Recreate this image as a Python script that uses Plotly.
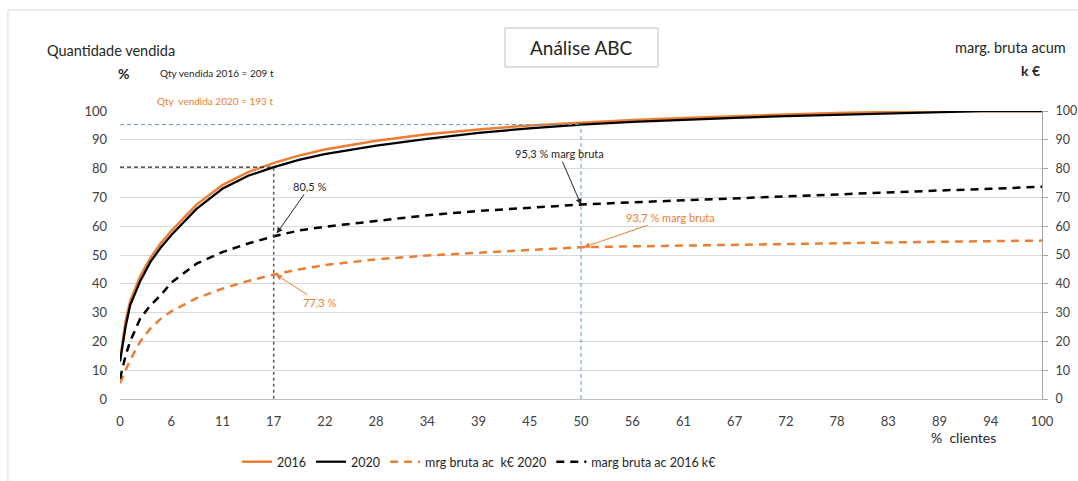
import plotly.graph_objects as go

# % of clients (cumulative, ranked)
pct_clients = [0, 0.6, 1.1, 2.2, 3.3, 4.4, 5.6, 8.3, 11.1, 13.9, 16.7, 19.4, 22.2,
               27.8, 33.3, 38.9, 44.4, 50, 55.6, 61.1, 66.7, 72.2, 77.8, 83.3,
               88.9, 94.4, 100]

# cumulative quantity sold (%)
qty_2016 = [13.5, 27, 34, 42.7, 49, 54, 58.5, 67.5, 74.3, 78.8, 82, 84.5, 86.6,
            89.7, 91.9, 93.6, 95, 96, 96.9, 97.6, 98.3, 98.8, 99.3, 99.7,
            100, 100, 100]
qty_2020 = [13, 25, 32.5, 41, 47.6, 52.5, 57, 66, 73, 77.5, 80.5, 83, 85,
            88, 90.3, 92.4, 94, 95.3, 96.2, 97, 97.6, 98.2, 98.7, 99.2,
            99.7, 100, 100]

# cumulative gross margin (k€, right axis)
mrg_2020 = [5.5, 10, 13.5, 20, 24.5, 27.8, 30.5, 35, 38.3, 41, 43.2, 45, 46.5,
            48.5, 49.8, 50.8, 51.8, 52.7, 53, 53.3, 53.6, 53.9, 54.1, 54.4,
            54.6, 54.8, 55]
mrg_2016 = [7, 15, 20, 28, 32.5, 36, 40.5, 47, 51, 54, 56.5, 58.5, 59.8,
            61.8, 63.8, 65.3, 66.5, 67.5, 68.3, 69, 69.8, 70.5, 71.2, 71.8,
            72.4, 73, 73.7]

x_tick_labels = ["0", "6", "11", "17", "22", "28", "34", "39", "45", "50",
                 "56", "61", "67", "72", "78", "83", "89", "94", "100"]
x_tick_vals = [i * 100 / 18 for i in range(len(x_tick_labels))]

# reference points
ref_a_x, ref_a_y = 100 / 6, 80.5
ref_b_x, ref_b_y = 50, 95.3

ORANGE = "#ED7D31"
BLUE = "#5B9BD5"
FONT = "Lato"
TXT = "#404040"

fig = go.Figure()

fig.add_trace(go.Scatter(x=pct_clients, y=qty_2016, name="2016", mode="lines",
                         line=dict(color=ORANGE, width=2.5)))
fig.add_trace(go.Scatter(x=pct_clients, y=qty_2020, name="2020", mode="lines",
                         line=dict(color="black", width=2.25)))
fig.add_trace(go.Scatter(x=pct_clients, y=mrg_2020, name="mrg bruta ac  k€ 2020",
                         mode="lines", yaxis="y2",
                         line=dict(color=ORANGE, width=2.5, dash="8px,6px")))
fig.add_trace(go.Scatter(x=pct_clients, y=mrg_2016, name="marg bruta ac 2016 k€",
                         mode="lines", yaxis="y2",
                         line=dict(color="black", width=2.5, dash="8px,6px")))

shapes = [
    # 17 % clients guide
    dict(type="line", xref="x", yref="y", x0=ref_a_x, x1=ref_a_x, y0=-2, y1=ref_a_y,
         line=dict(color="#595959", width=1.5, dash="3px,3px")),
    dict(type="line", xref="x", yref="y", x0=0, x1=ref_a_x, y0=ref_a_y, y1=ref_a_y,
         line=dict(color="#262626", width=1.2, dash="4px,3px")),
    # 50 % clients guide
    dict(type="line", xref="x", yref="y", x0=ref_b_x, x1=ref_b_x, y0=0, y1=ref_b_y,
         line=dict(color=BLUE, width=1, dash="4px,3px")),
    dict(type="line", xref="x", yref="y", x0=0, x1=ref_b_x, y0=ref_b_y, y1=ref_b_y,
         line=dict(color=BLUE, width=1, dash="4px,3px")),
    # title box
    dict(type="rect", xref="paper", yref="paper", x0=0.4176, x1=0.5835,
         y0=1.1528, y1=1.288, line=dict(color="#bfbfbf", width=1)),
    # chart area frame
    dict(type="rect", xref="paper", yref="paper", x0=-0.1215, x1=1.05,
         y0=-0.35, y1=1.3507, line=dict(color="#d9d9d9", width=1)),
]

annotations = [
    dict(text="Análise ABC", xref="paper", yref="paper", x=0.5, y=1.219,
         xanchor="center", yanchor="middle", showarrow=False,
         font=dict(size=19, color="#262626")),
    dict(text="Quantidade vendida", xref="paper", yref="paper", x=-0.0813, y=1.2118,
         xanchor="left", yanchor="middle", showarrow=False,
         font=dict(size=14.5, color="#262626")),
    dict(text="<b>%</b>", xref="paper", yref="paper", x=0.0043, y=1.1319,
         xanchor="center", yanchor="middle", showarrow=False,
         font=dict(size=14, color="#262626")),
    dict(text="Qty vendida 2016 = 209 t", xref="paper", yref="paper", x=0.0412, y=1.1319,
         xanchor="left", yanchor="middle", showarrow=False,
         font=dict(size=10, color="#262626")),
    dict(text="Qty  vendida 2020 = 193 t", xref="paper", yref="paper", x=0.038, y=1.0347,
         xanchor="left", yanchor="middle", showarrow=False,
         font=dict(size=10, color=ORANGE)),
    dict(text="marg. bruta acum", xref="paper", yref="paper", x=0.9035, y=1.2188,
         xanchor="left", yanchor="middle", showarrow=False,
         font=dict(size=14.5, color="#262626")),
    dict(text="<b>k €</b>", xref="paper", yref="paper", x=0.987, y=1.142,
         xanchor="center", yanchor="middle", showarrow=False,
         font=dict(size=14, color="#262626")),
    dict(text="%  clientes", xref="paper", yref="paper", x=0.9154, y=-0.135,
         xanchor="center", yanchor="middle", showarrow=False,
         font=dict(size=14, color="#262626")),
    # callouts
    dict(text="80,5 %", x=17.0, y=57.5, xref="x", yref="y2", showarrow=True,
         arrowhead=2, arrowsize=1.2, arrowwidth=1, arrowcolor="#262626",
         ax=33, ay=-47, font=dict(size=11, color="#262626")),
    dict(text="95,3 % marg bruta", x=50, y=67.5, xref="x", yref="y2", showarrow=True,
         arrowhead=2, arrowsize=1.2, arrowwidth=1, arrowcolor="#262626",
         ax=-22, ay=-51, font=dict(size=11, color="#262626")),
    dict(text="77,3 %", x=16.9, y=43.2, xref="x", yref="y2", showarrow=True,
         arrowhead=2, arrowsize=1.2, arrowwidth=1, arrowcolor=ORANGE,
         ax=44, ay=28, font=dict(size=11, color=ORANGE)),
    dict(text="93,7 % marg bruta", x=50.3, y=52.7, xref="x", yref="y2", showarrow=True,
         arrowhead=2, arrowsize=1.2, arrowwidth=1, arrowcolor=ORANGE,
         ax=87, ay=-30, font=dict(size=11, color=ORANGE)),
]

fig.update_layout(
    width=1078, height=481,
    margin=dict(l=120, r=36, t=111, b=82, autoexpand=False),
    paper_bgcolor="white", plot_bgcolor="white",
    font=dict(family=FONT, color=TXT, size=13),
    shapes=shapes, annotations=annotations,
    legend=dict(orientation="h", x=0.127, y=-0.219, xanchor="left", yanchor="middle",
                font=dict(size=12.5, color="#262626"), itemwidth=30,
                traceorder="normal"),
    xaxis=dict(range=[0, 100], tickvals=x_tick_vals, ticktext=x_tick_labels,
               showgrid=False, zeroline=False, showline=True, linecolor="#bfbfbf",
               ticks="", ticklabelstandoff=10, automargin=False,
               tickfont=dict(size=13, color=TXT)),
    yaxis=dict(range=[0, 100], dtick=10, showgrid=True, gridcolor="#d9d9d9",
               zeroline=False, showline=False, ticks="", ticklabelstandoff=12,
               automargin=False, tickfont=dict(size=13, color=TXT)),
    yaxis2=dict(range=[0, 100], dtick=10, overlaying="y", side="right",
                showgrid=False, zeroline=False, showline=True, linecolor="#a6a6a6",
                ticks="outside", ticklen=5, tickcolor="#a6a6a6",
                ticklabelstandoff=5, automargin=False,
                tickfont=dict(size=12.5, color=TXT)),
)

fig.write_html("out.html")
